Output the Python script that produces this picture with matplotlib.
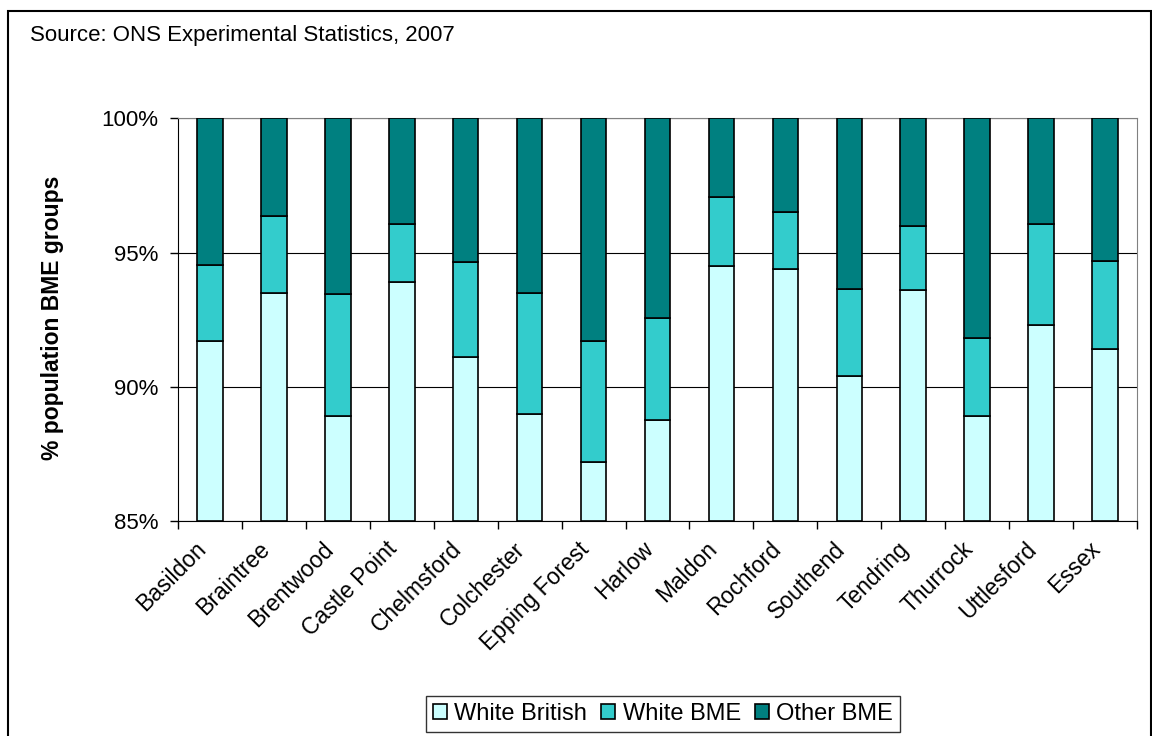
import matplotlib.pyplot as plt
import matplotlib.patches as patches
import matplotlib.transforms as mtransforms
import numpy as np

plt.rcParams['font.family'] = ['Liberation Sans', 'DejaVu Sans']

districts = ['Basildon', 'Braintree', 'Brentwood', 'Castle Point', 'Chelmsford',
             'Colchester', 'Epping Forest', 'Harlow', 'Maldon', 'Rochford',
             'Southend', 'Tendring', 'Thurrock', 'Uttlesford', 'Essex']

# shares (%)
white_british = [91.7, 93.5, 88.9, 93.9, 91.1, 89.0, 87.2, 88.75, 94.5, 94.4,
                 90.4, 93.6, 88.9, 92.3, 91.4]
white_bme = [2.85, 2.85, 4.55, 2.15, 3.55, 4.5, 4.5, 3.8, 2.55, 2.1,
             3.25, 2.4, 2.9, 3.75, 3.3]
other_bme = [5.45, 3.65, 6.55, 3.95, 5.35, 6.5, 8.3, 7.45, 2.95, 3.5,
             6.35, 4.0, 8.2, 3.95, 5.3]

colors = ['#CCFFFF', '#33CCCC', '#008080']
labels = ['White British', 'White BME', 'Other BME']

fig = plt.figure(figsize=(11.52, 7.36), dpi=100)
ax = fig.add_axes([178/1152, 1 - 521/736, (1137-178)/1152, (521-118.3)/736])

x = np.arange(len(districts))
wb = np.array(white_british)
wm = np.array(white_bme)
ob = np.array(other_bme)
width = 0.4
ax.bar(x, wb - 85, bottom=85, width=width, color=colors[0], edgecolor='black', linewidth=1.2, label=labels[0], zorder=3)
ax.bar(x, wm, bottom=wb, width=width, color=colors[1], edgecolor='black', linewidth=1.2, label=labels[1], zorder=3)
ax.bar(x, ob, bottom=wb + wm, width=width, color=colors[2], edgecolor='black', linewidth=1.2, label=labels[2], zorder=3)

ax.set_xlim(-0.5, len(districts) - 0.5)
ax.set_ylim(85, 100)
ax.set_yticks([85, 90, 95, 100])
ax.set_yticklabels(['%d%%' % v for v in [85, 90, 95, 100]], fontsize=16)
ax.yaxis.grid(True, color='black', linewidth=0.8, zorder=0)

ax.set_xticks(x)
ax.set_xticklabels(districts, rotation=45, ha='right', rotation_mode='anchor', fontsize=16.5)
ax.tick_params(axis='x', which='major', length=0, pad=14)
ax.set_xticks(np.arange(-0.5, len(districts), 1), minor=True)
ax.tick_params(axis='x', which='minor', length=6, direction='out', width=1)
ax.tick_params(axis='y', length=6, direction='out', width=1, pad=8)

# nudge category labels left so they end under the bar like the original
shift = mtransforms.ScaledTranslation(-16/100, 3/100, fig.dpi_scale_trans)
for lab in ax.get_xticklabels():
    lab.set_transform(lab.get_transform() + shift)

for s in ['top', 'right']:
    ax.spines[s].set_color('#808080')
for s in ['left', 'bottom']:
    ax.spines[s].set_color('black')

ax.set_ylabel('% population BME groups', fontsize=16.5, fontweight='bold')
ax.yaxis.set_label_coords(64/1152, 1 - 318/736, transform=fig.transFigure)

fig.text(30/1152, 1 - 36/736, 'Source: ONS Experimental Statistics, 2007', fontsize=16, va='center', ha='left')

leg = ax.legend(loc='center', bbox_to_anchor=(663/1152, 1 - 714/736), bbox_transform=fig.transFigure,
                ncol=3, fontsize=17, frameon=True, fancybox=False, edgecolor='black',
                handlelength=0.6, handleheight=0.6, handletextpad=0.3, columnspacing=0.6,
                borderpad=0.3)
leg.get_frame().set_linewidth(1.0)

fig.patches.append(patches.Rectangle((8/1152, -0.01), (1151-8)/1152, 1.01 - 10.5/736,
                                     transform=fig.transFigure, fill=False, edgecolor='black', linewidth=1.5))

fig.savefig('out.png', dpi=100)
